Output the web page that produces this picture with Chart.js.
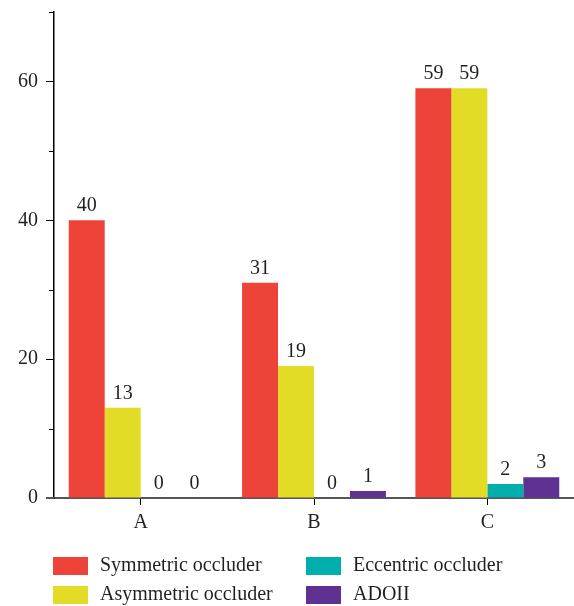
<!DOCTYPE html>
<html>
<head>
<meta charset="utf-8">
<script src="https://cdn.jsdelivr.net/npm/chart.js@4"></script>
<style>
  html, body { margin: 0; padding: 0; background: #fff; }
  #wrap { position: relative; width: 574px; height: 606px; }
  #legend { position: absolute; left: 53px; top: 554px; width: 520px;
    font-family: "Liberation Serif", serif; font-size: 20px; color: #231f20; }
  .item { position: absolute; height: 20px; line-height: 20px; white-space: nowrap; }
  .box { position: absolute; left: 0; top: 3px; width: 35px; height: 18px; }
  .lab { position: absolute; left: 47px; top: 0; }
</style>
</head>
<body>
<div id="wrap">
  <canvas id="c" width="574" height="606"></canvas>
  <div id="legend"></div>
</div>
<script>
const categories = ["A", "B", "C"];
const symmetric = [40, 31, 59];
const asymmetric = [13, 19, 59];
const eccentric = [0, 0, 2];
const adoii = [0, 1, 3];
const seriesNames = ["Symmetric occluder", "Asymmetric occluder", "Eccentric occluder", "ADOII"];
const seriesColors = ["#EE4338", "#E2DC27", "#00AFAD", "#5E3192"];
const yTickLabels = [0, 20, 40, 60];

const FONT = '"Liberation Serif", serif';
const TXT = '#231f20';

const valueLabels = {
  id: 'valueLabels',
  afterDatasetsDraw(chart) {
    const ctx = chart.ctx;
    ctx.save();
    ctx.font = '20px ' + FONT;
    ctx.fillStyle = TXT;
    ctx.textAlign = 'center';
    ctx.textBaseline = 'alphabetic';
    chart.data.datasets.forEach((ds, i) => {
      chart.getDatasetMeta(i).data.forEach((bar, j) => {
        ctx.fillText(String(ds.data[j]), bar.x, bar.y - 9);
      });
    });
    ctx.restore();
  }
};

const extraAxis = {
  id: 'extraAxis',
  afterDraw(chart) {
    const y = chart.scales.y;
    const x = chart.scales.x;
    const ctx = chart.ctx;
    ctx.save();
    ctx.strokeStyle = '#000';
    ctx.lineWidth = 1;
    [10, 30, 50, 70].forEach(v => {
      const py = Math.round(y.getPixelForValue(v)) + 0.5;
      ctx.beginPath();
      ctx.moveTo(y.right - 5, py);
      ctx.lineTo(y.right, py);
      ctx.stroke();
    });
    const by = x.top;
    ctx.strokeStyle = '#555';
    ctx.lineWidth = 2;
    ctx.beginPath();
    ctx.moveTo(y.right - 8, by);
    ctx.lineTo(y.right, by);
    ctx.stroke();
    ctx.restore();
  }
};

new Chart(document.getElementById('c'), {
  type: 'bar',
  data: {
    labels: categories,
    datasets: [symmetric, asymmetric, eccentric, adoii].map((d, i) => ({
      label: seriesNames[i],
      data: d,
      backgroundColor: seriesColors[i],
      borderWidth: 0,
      categoryPercentage: 0.83,
      barPercentage: 1.0
    }))
  },
  options: {
    responsive: false,
    animation: false,
    layout: { padding: { top: 12, right: 0, bottom: 68, left: 0 } },
    plugins: { legend: { display: false }, tooltip: { enabled: false } },
    scales: {
      x: {
        grid: { display: true, drawOnChartArea: false, offset: false, tickLength: 7, tickColor: '#000', tickWidth: 1 },
        border: { display: true, color: '#555', width: 2 },
        ticks: { font: { family: FONT, size: 20 }, color: TXT, padding: 6 },
        afterFit(s) { s.height = 40; s.paddingLeft = 0; s.paddingRight = 0; }
      },
      y: {
        min: 0, max: 70,
        grid: { display: true, drawOnChartArea: false, tickLength: 8,
          tickColor: c => (c.tick && c.tick.value % 20 === 0) ? '#000' : 'rgba(0,0,0,0)' },
        border: { display: true, color: '#000', width: 1.5 },
        ticks: {
          stepSize: 10,
          font: { family: FONT, size: 20 }, color: TXT, padding: 8,
          callback: v => yTickLabels.includes(v) ? String(v) : ''
        },
        afterFit(s) { s.width = 54; s.paddingTop = 0; s.paddingBottom = 0; }
      }
    }
  },
  plugins: [valueLabels, extraAxis]
});

const leg = document.getElementById('legend');
const order = [0, 1, 2, 3];
order.forEach((idx, k) => {
  const col = Math.floor(k / 2), row = k % 2;
  const it = document.createElement('div');
  it.className = 'item';
  it.style.left = (col * 253) + 'px';
  it.style.top = (row * 29) + 'px';
  it.innerHTML = '<span class="box" style="background:' + seriesColors[idx] + '"></span><span class="lab">' + seriesNames[idx] + '</span>';
  leg.appendChild(it);
});
</script>
</body>
</html>
